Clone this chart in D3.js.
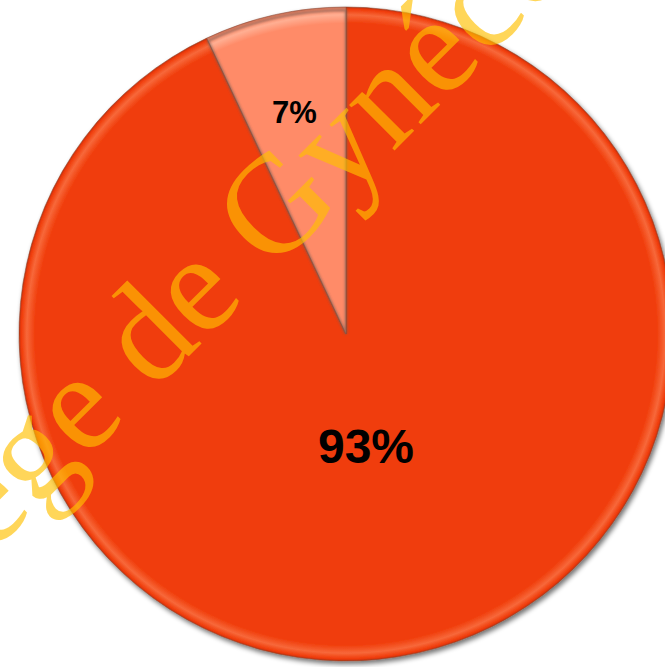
<!DOCTYPE html>
<html>
<head>
<meta charset="utf-8">
<script src="https://cdn.jsdelivr.net/npm/d3@7"></script>
<style>
  html, body { margin: 0; padding: 0; background: #ffffff; }
  svg { display: block; }
</style>
</head>
<body>
<svg id="chart" width="665" height="667"></svg>
<script>
// ---- data ----
const categories = ["A", "B"];
const values = [93, 7];
const labels = ["93%", "7%"];
const colors = ["#F03C0A", "#FF8B68"];
const highlight = ["#F7683A", "#FFAE92"];
const watermark = "Collège de Gynécologie";

const W = 665, H = 667;
const cx = 346, cy = 334, R = 327;
const svg = d3.select("#chart");
const defs = svg.append("defs");

// drop shadow
const sh = defs.append("filter").attr("id", "shadow")
  .attr("x", "-10%").attr("y", "-10%").attr("width", "120%").attr("height", "120%");
sh.append("feGaussianBlur").attr("in", "SourceAlpha").attr("stdDeviation", 2.5).attr("result", "b");
sh.append("feOffset").attr("in", "b").attr("dx", 1.5).attr("dy", 2.5).attr("result", "o");
sh.append("feComponentTransfer").attr("in", "o").attr("result", "s")
  .append("feFuncA").attr("type", "linear").attr("slope", 0.55);
const m = sh.append("feMerge");
m.append("feMergeNode").attr("in", "s");
m.append("feMergeNode").attr("in", "SourceGraphic");

// rim gradients (bevel look)
colors.forEach((c, i) => {
  const g = defs.append("radialGradient").attr("id", "rim" + i)
    .attr("gradientUnits", "userSpaceOnUse")
    .attr("cx", 0).attr("cy", 0).attr("r", R);
  g.append("stop").attr("offset", 0).attr("stop-color", c);
  g.append("stop").attr("offset", 0.95).attr("stop-color", c);
  g.append("stop").attr("offset", 0.976).attr("stop-color", highlight[i]);
  g.append("stop").attr("offset", 0.993).attr("stop-color", c);
  g.append("stop").attr("offset", 1).attr("stop-color", d3.color(c).darker(0.6));
});

const blur = defs.append("filter").attr("id", "edgeblur");
blur.append("feGaussianBlur").attr("stdDeviation", 1.2);

const pie = d3.pie().sort(null).startAngle(0).endAngle(2 * Math.PI)(values);
const arc = d3.arc().innerRadius(0).outerRadius(R);

const g = svg.append("g").attr("transform", `translate(${cx},${cy})`);
const pg = g.append("g").attr("filter", "url(#shadow)");
pg.selectAll("path.slice").data(pie).join("path")
  .attr("class", "slice")
  .attr("d", arc)
  .attr("fill", (d, i) => `url(#rim${i})`)
  .attr("stroke", "#8a4a38")
  .attr("stroke-opacity", 0.55)
  .attr("stroke-width", 1);

// soft shading along the radial edges of the small slice
const edge = d3.arc().innerRadius(0).outerRadius(R - 3);
g.selectAll("path.edge").data([pie[1]]).join("path")
  .attr("class", "edge")
  .attr("d", edge)
  .attr("fill", "none")
  .attr("stroke", "#6b5a55")
  .attr("stroke-width", 2.5)
  .attr("stroke-opacity", 0.6)
  .attr("filter", "url(#edgeblur)");

// labels
const labelR = [0.35, 0.695];
const labelShift = [[-5, 0], [-2, 0]];
g.selectAll("text.lbl").data(pie).join("text")
  .attr("class", "lbl")
  .attr("x", (d, i) => d3.arc().innerRadius(labelR[i] * R).outerRadius(labelR[i] * R).centroid(d)[0] + labelShift[i][0])
  .attr("y", (d, i) => d3.arc().innerRadius(labelR[i] * R).outerRadius(labelR[i] * R).centroid(d)[1] + labelShift[i][1])
  .attr("dy", "0.36em")
  .attr("text-anchor", "middle")
  .attr("font-family", "Liberation Sans, Arial, sans-serif")
  .attr("font-weight", "bold")
  .attr("font-size", (d, i) => i === 0 ? 48 : 31)
  .attr("fill", "#000")
  .text((d, i) => labels[i]);

// watermark
svg.append("text")
  .attr("transform", "translate(225,320) rotate(-45)")
  .attr("x", -572)
  .attr("font-family", "Liberation Serif, 'Times New Roman', serif")
  .attr("font-size", 140)
  .attr("fill", "#FFC000")
  .attr("fill-opacity", 0.65)
  .text(watermark);
</script>
</body>
</html>
